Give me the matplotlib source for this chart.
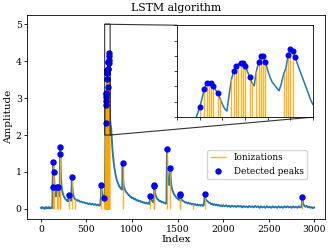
import matplotlib
matplotlib.use("Agg")
import matplotlib.pyplot as plt

plt.rcParams['font.family'] = ['DejaVu Serif']

# Signal readings (index, amplitude)
signal = [
    (0, 0.03), (8, 0.01), (16, 0.05), (24, 0.02), (32, 0.04), (40, 0.00), (48, 0.03), (56, 0.05),
    (64, 0.01), (72, 0.04), (80, 0.02), (88, 0.05), (96, 0.01), (104, 0.03), (112, 0.04), (120, 0.02),
    (126, 0.04), (128, 0.58), (131, 0.95), (135, 1.26), (138, 1.12), (142, 0.99), (146, 0.76), (150, 0.60),
    (155, 0.47), (160, 0.39), (165, 0.34), (169, 0.42), (172, 0.58), (176, 0.50), (181, 0.44), (186, 0.50),
    (190, 0.58), (194, 0.46), (198, 0.39), (203, 0.34), (207, 0.55), (210, 1.50), (213, 1.67), (216, 1.20),
    (220, 0.86), (225, 0.66), (231, 0.53), (238, 0.44), (246, 0.38), (254, 0.33), (262, 0.30), (270, 0.26),
    (278, 0.25), (286, 0.22), (294, 0.23), (301, 0.21), (304, 0.30), (307, 0.37), (311, 0.31), (318, 0.26),
    (325, 0.24), (332, 0.22), (336, 0.50), (340, 0.86), (344, 0.62), (349, 0.47), (355, 0.38), (362, 0.32),
    (370, 0.28), (378, 0.26), (386, 0.24), (394, 0.25), (402, 0.22), (415, 0.23), (430, 0.19), (445, 0.20),
    (460, 0.17), (475, 0.18), (490, 0.15), (505, 0.16), (520, 0.13), (535, 0.15), (550, 0.12), (565, 0.14),
    (580, 0.11), (595, 0.13), (610, 0.10), (625, 0.12), (640, 0.09), (652, 0.11), (658, 0.32), (662, 0.66),
    (666, 0.55), (672, 0.43), (680, 0.34), (687, 0.28), (692, 0.30), (696, 0.29), (700, 0.40), (703, 0.80),
    (706, 1.40), (708, 1.90), (709, 2.10), (710, 2.32), (711, 2.60), (712, 2.91), (713, 3.10), (714, 3.13),
    (715, 3.13), (716, 3.02), (717, 2.88), (718, 2.80), (719, 2.60), (720, 2.42), (721, 2.27), (722, 2.20),
    (723, 2.75), (724, 3.23), (725, 3.51), (726, 3.68), (727, 3.73), (728, 3.77), (729, 3.77), (730, 3.67),
    (731, 3.50), (732, 3.31), (733, 3.12), (734, 3.02), (735, 3.50), (736, 3.80), (737, 3.99), (738, 3.99),
    (739, 3.80), (740, 3.52), (741, 3.30), (742, 3.14), (743, 3.05), (744, 2.95), (745, 2.86), (746, 3.10),
    (747, 3.40), (748, 3.60), (749, 4.02), (750, 4.21), (751, 4.15), (752, 3.96), (753, 3.75), (754, 3.55),
    (755, 3.35), (756, 3.15), (757, 2.95), (758, 2.75), (759, 2.55), (760, 2.40), (766, 2.28), (772, 2.15),
    (778, 1.90), (785, 1.62), (793, 1.40), (802, 1.20), (811, 1.04), (820, 0.92), (830, 0.81), (840, 0.73),
    (849, 0.68), (858, 0.62), (867, 0.59), (876, 0.55), (885, 0.54), (891, 0.52), (894, 0.75), (897, 1.23),
    (900, 0.92), (905, 0.71), (912, 0.60), (920, 0.53), (930, 0.48), (940, 0.44), (950, 0.42), (960, 0.38),
    (970, 0.37), (980, 0.33), (990, 0.33), (1000, 0.29), (1012, 0.30), (1024, 0.26), (1036, 0.27), (1048, 0.23),
    (1060, 0.24), (1072, 0.21), (1084, 0.22), (1096, 0.19), (1108, 0.20), (1120, 0.17), (1132, 0.18), (1144, 0.15),
    (1156, 0.17), (1168, 0.14), (1180, 0.16), (1192, 0.13), (1197, 0.28), (1200, 0.36), (1204, 0.30), (1210, 0.26),
    (1217, 0.22), (1225, 0.21), (1233, 0.18), (1238, 0.20), (1241, 0.40), (1244, 0.63), (1246, 0.66), (1250, 0.50),
    (1256, 0.40), (1263, 0.34), (1271, 0.30), (1280, 0.26), (1290, 0.25), (1300, 0.21), (1312, 0.22), (1324, 0.18),
    (1336, 0.19), (1348, 0.16), (1360, 0.17), (1372, 0.14), (1378, 0.15), (1380, 0.70), (1383, 1.63), (1386, 1.22),
    (1390, 0.96), (1396, 0.82), (1403, 0.71), (1410, 0.64), (1416, 0.70), (1420, 1.12), (1424, 0.86), (1430, 0.66),
    (1437, 0.56), (1445, 0.49), (1455, 0.43), (1465, 0.38), (1476, 0.34), (1488, 0.30), (1500, 0.28), (1511, 0.25),
    (1520, 0.24), (1524, 0.37), (1527, 0.41), (1532, 0.33), (1539, 0.27), (1548, 0.24), (1560, 0.21), (1572, 0.20),
    (1584, 0.17), (1596, 0.18), (1608, 0.15), (1620, 0.17), (1632, 0.14), (1644, 0.15), (1656, 0.12), (1668, 0.14),
    (1680, 0.11), (1692, 0.13), (1704, 0.10), (1716, 0.12), (1728, 0.09), (1740, 0.11), (1752, 0.09), (1764, 0.11),
    (1776, 0.08), (1786, 0.10), (1793, 0.22), (1797, 0.40), (1802, 0.32), (1810, 0.26), (1820, 0.22), (1832, 0.20),
    (1844, 0.17), (1856, 0.16), (1868, 0.13), (1880, 0.14), (1892, 0.11), (1904, 0.13), (1916, 0.10), (1928, 0.12),
    (1940, 0.09), (1952, 0.11), (1964, 0.08), (1976, 0.10), (1988, 0.07), (2000, 0.10), (2016, 0.07), (2032, 0.10),
    (2048, 0.06), (2064, 0.09), (2080, 0.05), (2096, 0.09), (2112, 0.06), (2128, 0.08), (2144, 0.05), (2160, 0.09),
    (2176, 0.06), (2192, 0.08), (2208, 0.04), (2224, 0.08), (2240, 0.05), (2256, 0.07), (2272, 0.04), (2288, 0.08),
    (2304, 0.05), (2320, 0.07), (2336, 0.04), (2352, 0.08), (2368, 0.05), (2384, 0.07), (2400, 0.03), (2416, 0.07),
    (2432, 0.04), (2448, 0.06), (2464, 0.03), (2480, 0.07), (2496, 0.04), (2512, 0.06), (2528, 0.03), (2544, 0.07),
    (2560, 0.04), (2576, 0.06), (2592, 0.03), (2608, 0.07), (2624, 0.04), (2640, 0.06), (2656, 0.03), (2672, 0.07),
    (2688, 0.04), (2704, 0.07), (2720, 0.04), (2736, 0.06), (2752, 0.03), (2768, 0.07), (2784, 0.04), (2800, 0.06),
    (2816, 0.03), (2832, 0.07), (2848, 0.04), (2860, 0.06), (2866, 0.20), (2869, 0.32), (2873, 0.22), (2880, 0.13),
    (2890, 0.09), (2902, 0.06), (2916, 0.08), (2930, 0.04), (2944, 0.06), (2958, 0.03), (2972, 0.05), (2986, 0.02),
    (2999, 0.04),
]
sig_idx = [p[0] for p in signal]
sig_amp = [p[1] for p in signal]

# Ionizations (orange vertical lines)
ion_idx = [128, 135, 142, 172, 190, 210, 213, 307, 340, 378, 662, 692,
           703, 706, 708, 710, 712, 713, 714, 715, 716, 718, 719, 724, 725, 726, 727, 728,
           729, 730, 732, 733, 735, 736, 737, 738, 739, 747, 748, 749, 750, 751,
           897, 1200, 1244, 1246, 1383, 1420, 1524, 1527, 1665, 1797, 2869]
ion_amp = [0.58, 1.26, 0.99, 0.58, 0.58, 1.50, 1.67, 0.37, 0.86, 0.26, 0.66, 0.30,
           0.80, 1.40, 1.90, 2.32, 2.91, 3.10, 3.13, 3.13, 3.02, 2.80, 2.60, 3.23, 3.51, 3.68, 3.73, 3.77,
           3.77, 3.67, 3.31, 3.12, 3.50, 3.80, 3.99, 3.99, 3.80, 3.40, 3.60, 4.02, 4.21, 4.15,
           1.23, 0.36, 0.63, 0.66, 1.63, 1.12, 0.37, 0.41, 0.13, 0.40, 0.32]

# Detected peaks (blue dots)
peak_idx = [128, 135, 142, 172, 190, 210, 213, 307, 340, 662, 692,
            710, 712, 713, 715, 716, 718, 725, 726, 728, 729, 730, 732, 736, 737, 738, 739,
            749, 750, 751, 752, 897, 1200, 1244, 1246, 1383, 1420, 1524, 1527, 1797, 2869]
peak_amp = [0.58, 1.26, 0.99, 0.58, 0.58, 1.50, 1.67, 0.37, 0.86, 0.66, 0.30,
            2.32, 2.91, 3.10, 3.13, 3.02, 2.80, 3.51, 3.68, 3.77, 3.77, 3.67, 3.31, 3.80, 3.99, 3.99, 3.80,
            4.02, 4.21, 4.15, 3.96, 1.23, 0.36, 0.63, 0.66, 1.63, 1.12, 0.37, 0.41, 0.40, 0.32]

fig, ax = plt.subplots(figsize=(3.32, 2.5), dpi=100)
fig.subplots_adjust(left=0.082, right=0.979, bottom=0.123, top=0.94)

def draw(a, lw, ms):
    a.plot(sig_idx, sig_amp, color='C0', lw=lw)
    a.vlines(ion_idx, 0, ion_amp, color='orange', lw=1, alpha=0.85, label='Ionizations')
    a.plot(peak_idx, peak_amp, 'o', color='blue', ms=ms, label='Detected peaks')

draw(ax, 1.35, 3.6)
ax.set_xlim(-150, 3118)
ax.set_ylim(-0.28, 5.25)
ax.set_title('LSTM algorithm', fontsize=7.8, pad=3)
ax.set_xlabel('Index', fontsize=7.5, labelpad=1)
ax.set_ylabel('Amplitude', fontsize=7.5, labelpad=2)
ax.tick_params(labelsize=6.7, length=2.5, width=0.6, pad=1.5)
ax.set_xticks([0, 500, 1000, 1500, 2000, 2500, 3000])
for s in ax.spines.values():
    s.set_linewidth(0.6)
ax.legend(fontsize=6.4, loc='upper right', bbox_to_anchor=(0.94, 0.34), borderaxespad=0,
          handlelength=1.8, framealpha=0.8)

axins = ax.inset_axes([0.503, 0.5, 0.457, 0.45])
draw(axins, 1.1, 3.3)
axins.set_xlim(700, 760)
axins.set_ylim(2, 5)
axins.set_xticks(range(700, 761, 10))
axins.set_yticks([2, 2.5, 3, 3.5, 4, 4.5, 5])
axins.set_xticklabels([])
axins.set_yticklabels([])
axins.tick_params(length=2, width=0.5)
for s in axins.spines.values():
    s.set_linewidth(0.6)
ax.indicate_inset_zoom(axins, edgecolor='black', alpha=0.8, lw=0.8)

fig.savefig('out.png', dpi=100)
